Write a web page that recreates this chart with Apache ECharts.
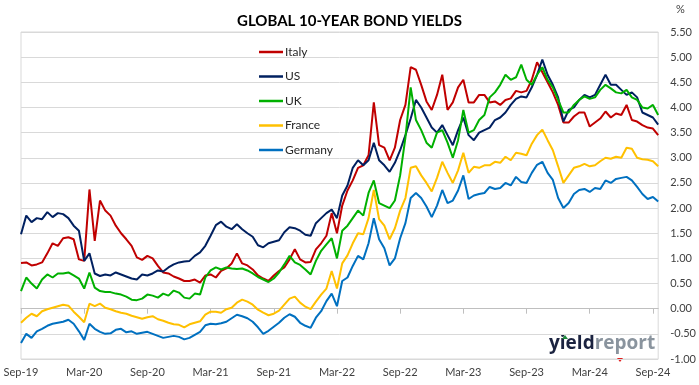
<!DOCTYPE html>
<html>
<head>
<meta charset="utf-8">
<script src="https://cdn.jsdelivr.net/npm/echarts@6/dist/echarts.min.js"></script>
<style>
html,body{margin:0;padding:0;background:#fff;}
#c{width:699px;height:385px;}
</style>
</head>
<body>
<div id="c"></div>
<script>
// Half-monthly observations, index 0 = 1 Sep 2019 ... index 121 = mid Sep/Oct 2024
const tickLabels = ['Sep-19','Mar-20','Sep-20','Mar-21','Sep-21','Mar-22','Sep-22','Mar-23','Sep-23','Mar-24','Sep-24'];
const seriesNames = ['Italy','US','UK','France','Germany'];

const italy = [0.91,0.92,0.86,0.88,0.92,1.10,1.30,1.25,1.40,1.42,1.38,0.98,0.95,2.37,1.35,2.15,1.95,1.85,1.65,1.50,1.38,1.25,1.02,0.97,1.05,1.00,0.85,0.72,0.70,0.64,0.60,0.55,
0.55,0.58,0.52,0.66,0.68,0.62,0.75,0.80,0.90,1.10,0.90,0.86,0.78,0.66,0.60,0.55,0.66,0.75,0.82,0.98,1.18,0.98,0.92,0.93,1.18,1.30,1.45,1.90,1.50,2.05,
2.35,2.55,2.80,2.85,3.05,4.10,3.25,3.20,2.95,3.20,3.75,4.05,4.80,4.75,4.45,4.12,3.95,4.25,4.65,3.95,4.10,4.40,4.55,4.10,4.10,4.25,4.25,4.10,4.12,4.05,
4.15,4.18,4.33,4.30,4.33,4.55,4.90,4.70,4.50,4.30,4.05,3.70,3.70,3.82,3.90,3.90,3.62,3.70,3.78,3.92,3.80,3.88,3.85,4.05,3.75,3.72,3.65,3.60,3.58,3.45];

const us = [1.48,1.85,1.72,1.80,1.78,1.92,1.82,1.90,1.88,1.80,1.65,1.55,0.95,1.10,0.70,0.65,0.68,0.66,0.72,0.68,0.64,0.60,0.58,0.68,0.66,0.70,0.76,0.74,0.82,0.88,0.92,0.94,
0.95,1.05,1.12,1.25,1.45,1.66,1.73,1.63,1.58,1.68,1.58,1.50,1.43,1.26,1.22,1.30,1.33,1.36,1.52,1.62,1.60,1.55,1.47,1.45,1.70,1.80,1.90,1.97,1.80,2.25,
2.45,2.80,2.95,2.85,2.95,3.30,2.95,2.85,2.72,2.90,3.15,3.45,3.78,4.15,4.00,3.80,3.60,3.50,3.65,3.45,3.25,3.55,3.80,3.45,3.35,3.50,3.55,3.60,3.75,3.80,
3.90,4.05,4.17,4.22,4.20,4.40,4.65,4.95,4.65,4.45,4.20,3.72,3.95,4.00,4.15,4.25,4.20,4.25,4.45,4.65,4.45,4.45,4.35,4.25,4.30,4.20,3.90,3.85,3.80,3.66];

const uk = [0.35,0.62,0.50,0.40,0.58,0.68,0.62,0.70,0.70,0.72,0.66,0.60,0.40,0.72,0.42,0.35,0.33,0.33,0.30,0.28,0.24,0.18,0.17,0.20,0.28,0.26,0.22,0.30,0.26,0.36,0.32,0.22,
0.20,0.30,0.28,0.62,0.76,0.82,0.78,0.82,0.80,0.79,0.80,0.76,0.70,0.63,0.58,0.53,0.60,0.72,0.88,1.05,0.92,0.87,0.78,0.68,0.95,1.15,1.28,1.40,1.00,1.55,
1.65,1.80,1.95,1.85,2.30,2.55,2.10,2.05,2.00,2.15,2.65,3.40,4.40,3.75,3.55,3.30,3.20,3.50,3.55,3.30,3.00,3.35,3.95,3.50,3.55,3.75,3.85,4.20,4.30,4.45,
4.65,4.55,4.60,4.85,4.55,4.45,4.65,4.80,4.55,4.40,4.15,3.90,3.90,4.05,4.15,4.22,4.17,4.20,4.35,4.45,4.38,4.30,4.28,4.35,4.20,4.15,4.00,3.98,4.05,3.85];

const france = [-0.28,-0.18,-0.10,-0.15,-0.05,-0.01,0.02,0.05,0.08,0.06,-0.06,-0.16,-0.27,0.10,0.05,0.10,0.02,-0.01,-0.05,-0.08,-0.10,-0.14,-0.17,-0.20,-0.17,-0.15,-0.21,-0.24,-0.28,-0.31,-0.32,-0.37,
-0.31,-0.28,-0.25,-0.12,-0.06,-0.06,-0.08,-0.01,0.02,0.12,0.18,0.14,0.08,-0.02,-0.08,-0.13,-0.10,-0.04,0.08,0.20,0.24,0.12,0.04,-0.01,0.14,0.28,0.40,0.75,0.40,0.90,
1.06,1.30,1.50,1.48,1.80,2.36,1.78,1.65,1.38,1.60,1.95,2.20,2.80,2.83,2.65,2.50,2.33,2.60,2.92,2.70,2.50,2.75,3.10,2.70,2.82,2.80,2.85,2.85,2.92,2.90,
3.02,2.95,3.10,3.08,3.05,3.28,3.45,3.56,3.35,3.15,2.83,2.50,2.65,2.80,2.83,2.88,2.83,2.85,2.93,3.00,2.98,3.02,3.00,3.20,3.18,3.00,2.97,2.96,2.93,2.83];

const germany = [-0.68,-0.50,-0.58,-0.45,-0.40,-0.34,-0.30,-0.28,-0.26,-0.22,-0.30,-0.45,-0.62,-0.30,-0.40,-0.46,-0.50,-0.49,-0.42,-0.40,-0.47,-0.45,-0.50,-0.48,-0.46,-0.50,-0.54,-0.58,-0.56,-0.54,-0.56,-0.61,
-0.58,-0.52,-0.46,-0.33,-0.30,-0.31,-0.29,-0.26,-0.19,-0.12,-0.15,-0.19,-0.26,-0.37,-0.50,-0.44,-0.36,-0.28,-0.18,-0.11,-0.16,-0.28,-0.34,-0.38,-0.18,-0.05,0.15,0.30,0.05,0.55,
0.62,0.85,1.05,0.98,1.30,1.80,1.38,1.20,0.86,1.00,1.40,1.70,2.20,2.30,2.20,2.03,1.82,2.05,2.36,2.10,2.15,2.35,2.65,2.18,2.25,2.28,2.30,2.42,2.38,2.40,
2.50,2.45,2.62,2.52,2.50,2.70,2.86,2.92,2.70,2.56,2.20,2.00,2.10,2.28,2.36,2.38,2.32,2.40,2.38,2.55,2.50,2.58,2.60,2.62,2.55,2.42,2.28,2.18,2.22,2.13];

const colors = ['#C00000','#002060','#00B000','#FFC000','#0070C0'];

// category labels: half-month steps from Sep 2019
const categories = [];
for (let i = 0; i < italy.length; i++) {
  const m = 8 + Math.floor(i / 2);
  const y = 2019 + Math.floor(m / 12);
  const mm = (m % 12) + 1;
  categories.push(y + '-' + (mm < 10 ? '0' : '') + mm + (i % 2 ? '-16' : '-01'));
}
const allSeries = [italy, us, uk, france, germany];

const chart = echarts.init(document.getElementById('c'), null, {renderer: 'canvas'});
const FONT = 'Lato, "Open Sans", sans-serif';
chart.setOption({
  animation: false,
  backgroundColor: '#ffffff',
  color: colors,
  title: {
    text: 'GLOBAL 10-YEAR BOND YIELDS',
    left: 'center', top: 9,
    textStyle: {fontFamily: FONT, fontWeight: 'bold', fontSize: 15, color: '#000000'}
  },
  legend: {
    orient: 'vertical', left: 254, top: 41,
    itemWidth: 24, itemHeight: 14, itemGap: 12.5,
    icon: 'path://M0,6 L24,6 L24,8.5 L0,8.5 Z',
    textStyle: {fontFamily: FONT, fontSize: 12, color: '#262626', padding: [0,0,0,-3]},
    data: seriesNames
  },
  grid: {
    left: 21, right: 40, top: 32, bottom: 26,
    show: true, borderColor: '#D9D9D9', borderWidth: 1
  },
  xAxis: {
    type: 'category', boundaryGap: false, data: categories,
    axisLine: {show: true, lineStyle: {color: '#BFBFBF'}},
    axisTick: {show: true, length: 5, lineStyle: {color: '#BFBFBF'},
      interval: function (i) { return i % 12 === 0; }},
    axisLabel: {
      interval: function (i) { return i % 12 === 0; },
      formatter: function (v, i) { return i % 12 === 0 ? tickLabels[i / 12] : ''; },
      fontFamily: FONT, fontSize: 11, color: '#404040', margin: 8
    },
    splitLine: {show: false}
  },
  yAxis: {
    type: 'value', position: 'right', min: -1, max: 5.5, interval: 0.5,
    axisLine: {show: false}, axisTick: {show: false},
    axisLabel: {formatter: function (v) { return v.toFixed(2); },
      fontFamily: FONT, fontSize: 11, color: '#404040', margin: 12},
    splitLine: {lineStyle: {color: '#D9D9D9', width: 1}}
  },
  graphic: [
    {type: 'text', left: 676, top: 4, style: {text: '%', fontFamily: FONT, fontSize: 11, fill: '#404040'}},
    {type: 'text', left: 549, top: 334, style: {
      text: '{a|yield}{b|report}',
      rich: {
        a: {fontFamily: '"Open Sans", sans-serif', fontWeight: 'bold', fontSize: 19, fill: '#1B2340', color: '#1B2340'},
        b: {fontFamily: '"Open Sans", sans-serif', fontWeight: 'bold', fontSize: 19, fill: '#8A949E', color: '#8A949E'}
      }
    }},
    {type: 'polygon', shape: {points: [[562,339],[565,335],[568,339]]}, style: {fill: '#1E8A3C'}},
    {type: 'polygon', shape: {points: [[617,358],[623,358],[620,362]]}, style: {fill: '#E02020'}}
  ],
  series: allSeries.map(function (d, k) {
    return {
      name: seriesNames[k], type: 'line', data: d, symbol: 'none',
      lineStyle: {width: 2, color: colors[k]}, itemStyle: {color: colors[k]}
    };
  })
});
</script>
</body>
</html>
